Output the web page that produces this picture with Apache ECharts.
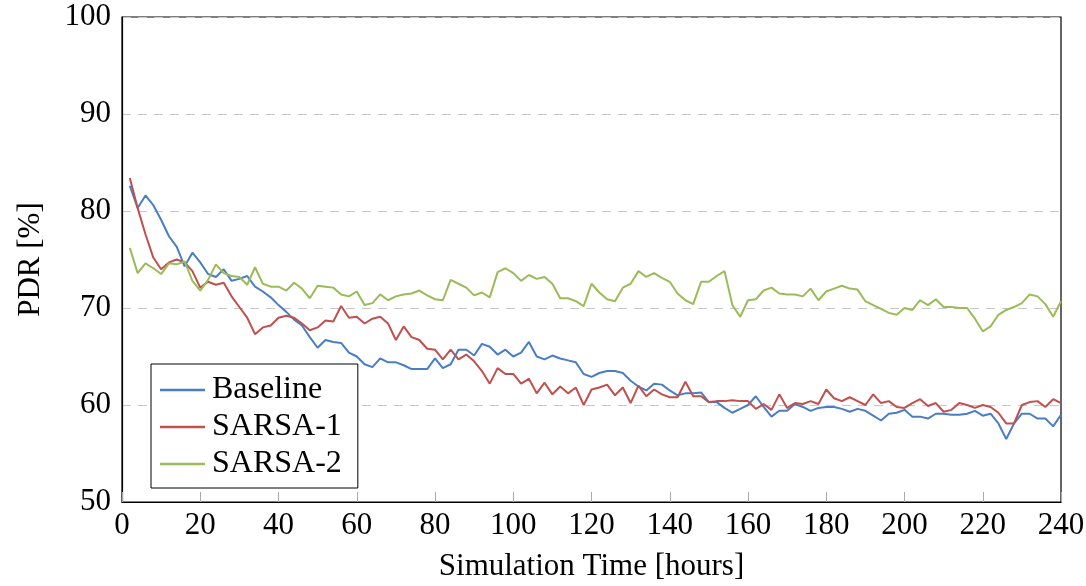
<!DOCTYPE html>
<html>
<head>
<meta charset="utf-8">
<script src="https://cdn.jsdelivr.net/npm/echarts@6/dist/echarts.min.js"></script>
<style>
  html, body { margin: 0; padding: 0; background: #fff; }
  #chart { width: 1086px; height: 586px; }
</style>
</head>
<body>
<div id="chart"></div>
<script>
// simulation time in hours, one sample every 2 h
const hours = [
  2, 4, 6, 8, 10, 12, 14, 16, 18, 20,
  22, 24, 26, 28, 30, 32, 34, 36, 38, 40,
  42, 44, 46, 48, 50, 52, 54, 56, 58, 60,
  62, 64, 66, 68, 70, 72, 74, 76, 78, 80,
  82, 84, 86, 88, 90, 92, 94, 96, 98, 100,
  102, 104, 106, 108, 110, 112, 114, 116, 118, 120,
  122, 124, 126, 128, 130, 132, 134, 136, 138, 140,
  142, 144, 146, 148, 150, 152, 154, 156, 158, 160,
  162, 164, 166, 168, 170, 172, 174, 176, 178, 180,
  182, 184, 186, 188, 190, 192, 194, 196, 198, 200,
  202, 204, 206, 208, 210, 212, 214, 216, 218, 220,
  222, 224, 226, 228, 230, 232, 234, 236, 238, 240
]

const baseline = [
  82.6, 80.3, 81.6, 80.6, 79.1, 77.4, 76.3, 74.3, 75.7, 74.7,
  73.5, 73.2, 74.0, 72.8, 73.0, 73.3, 72.2, 71.7, 71.1, 70.3,
  69.6, 68.8, 68.2, 67.0, 65.9, 66.7, 66.5, 66.4, 65.4, 65.0,
  64.2, 63.9, 64.8, 64.4, 64.4, 64.1, 63.7, 63.7, 63.7, 64.8,
  63.8, 64.2, 65.7, 65.7, 65.1, 66.3, 66.0, 65.2, 65.7, 65.0,
  65.4, 66.5, 65.0, 64.7, 65.1, 64.8, 64.6, 64.4, 63.2, 62.9,
  63.3, 63.5, 63.5, 63.3, 62.5, 61.9, 61.5, 62.2, 62.1, 61.5,
  61.0, 61.2, 61.2, 61.3, 60.3, 60.3, 59.7, 59.2, 59.6, 60.0,
  60.9, 59.8, 58.8, 59.4, 59.4, 60.1, 59.8, 59.4, 59.7, 59.8,
  59.8, 59.6, 59.3, 59.6, 59.4, 58.9, 58.4, 59.1, 59.2, 59.5,
  58.8, 58.8, 58.6, 59.1, 59.1, 59.0, 59.0, 59.1, 59.4, 58.9,
  59.1, 58.1, 56.5, 58.1, 59.1, 59.1, 58.6, 58.6, 57.8, 59.0
]

const sarsa1 = [
  83.4, 80.3, 77.6, 75.2, 74.0, 74.7, 75.0, 74.7, 73.8, 72.1,
  72.7, 72.4, 72.6, 71.2, 70.1, 69.0, 67.3, 68.0, 68.2, 69.0,
  69.2, 69.0, 68.4, 67.7, 68.0, 68.7, 68.6, 70.2, 69.0, 69.1,
  68.4, 68.9, 69.1, 68.4, 66.7, 68.1, 67.0, 66.7, 65.8, 65.7,
  64.7, 65.7, 64.7, 65.2, 64.5, 63.5, 62.2, 63.8, 63.2, 63.2,
  62.2, 62.7, 61.2, 62.3, 61.1, 61.9, 61.2, 61.8, 60.0, 61.6,
  61.8, 62.1, 61.0, 61.8, 60.2, 62.0, 60.9, 61.6, 61.1, 60.8,
  60.8, 62.4, 60.9, 60.9, 60.3, 60.4, 60.4, 60.5, 60.4, 60.4,
  59.6, 60.1, 59.5, 61.1, 59.7, 60.2, 60.1, 60.4, 60.1, 61.6,
  60.7, 60.4, 60.8, 60.4, 60.0, 61.1, 60.2, 60.4, 59.8, 59.7,
  60.2, 60.6, 59.9, 60.2, 59.3, 59.5, 60.2, 60.0, 59.7, 60.0,
  59.8, 59.2, 58.1, 58.1, 60.0, 60.3, 60.4, 59.8, 60.6, 60.2
]

const sarsa2 = [
  76.2, 73.6, 74.6, 74.1, 73.5, 74.6, 74.5, 74.8, 72.8, 71.8,
  72.9, 74.5, 73.6, 73.3, 73.2, 72.4, 74.2, 72.5, 72.2, 72.2,
  71.8, 72.6, 72.0, 71.0, 72.3, 72.2, 72.1, 71.4, 71.2, 71.7,
  70.3, 70.5, 71.4, 70.8, 71.2, 71.4, 71.5, 71.8, 71.3, 70.9,
  70.8, 72.9, 72.5, 72.1, 71.3, 71.6, 71.1, 73.7, 74.1, 73.6,
  72.8, 73.4, 73.0, 73.2, 72.5, 71.0, 71.0, 70.7, 70.2, 72.5,
  71.6, 70.9, 70.7, 72.1, 72.5, 73.8, 73.2, 73.6, 73.1, 72.7,
  71.5, 70.8, 70.4, 72.7, 72.7, 73.3, 73.8, 70.3, 69.1, 70.8,
  70.9, 71.8, 72.1, 71.5, 71.4, 71.4, 71.2, 72.0, 70.8, 71.7,
  72.0, 72.3, 72.0, 71.9, 70.7, 70.3, 69.9, 69.5, 69.3, 70.0,
  69.8, 70.8, 70.3, 70.9, 70.1, 70.1, 70.0, 70.0, 68.9, 67.6,
  68.1, 69.3, 69.8, 70.1, 70.5, 71.4, 71.2, 70.4, 69.1, 70.7
]

const seriesNames = ['Baseline', 'SARSA-1', 'SARSA-2']
const seriesColors = ['#4a7ec4', '#c0504d', '#9bbb59']

const font = "'Liberation Serif', 'DejaVu Serif', serif"

const pairs = (ys) => ys.map((y, i) => [hours[i], y])

const chart = echarts.init(document.getElementById('chart'))

chart.setOption({
    animation: false,
    textStyle: { fontFamily: font, color: '#000' },
    grid: {
        left: 122,
        right: 25,
        top: 17,
        bottom: 84,
        outerBoundsMode: 'none',
        containLabel: false,
        show: true,
        borderColor: '#000',
        borderWidth: 1.2
    },
    legend: {
        orient: 'vertical',
        left: 151,
        top: 364,
        data: seriesNames,
        icon: 'rect',
        itemWidth: 45,
        itemHeight: 2.5,
        itemGap: 5,
        padding: [10, 16, 8, 9],
        backgroundColor: '#fff',
        borderColor: '#000',
        borderWidth: 1,
        textStyle: { fontFamily: font, fontSize: 32, color: '#000', padding: [0, 0, 0, 2] }
    },
    xAxis: {
        type: 'value',
        min: 0,
        max: 240,
        interval: 20,
        name: 'Simulation Time [hours]',
        nameLocation: 'middle',
        nameGap: 49,
        nameTextStyle: { fontFamily: font, fontSize: 31, color: '#000' },
        axisLine: { lineStyle: { color: '#000', width: 1.2 } },
        axisTick: { inside: true, length: 10, lineStyle: { color: '#aaa' } },
        axisLabel: { fontFamily: font, fontSize: 31, color: '#000', margin: 8 },
        splitLine: { show: false }
    },
    yAxis: {
        type: 'value',
        min: 50,
        max: 100,
        interval: 10,
        name: 'PDR [%]',
        nameLocation: 'middle',
        nameGap: 76,
        nameTextStyle: { fontFamily: font, fontSize: 31, color: '#000' },
        axisLine: { show: true, lineStyle: { color: '#000', width: 1.2 } },
        axisTick: { show: false },
        axisLabel: { fontFamily: font, fontSize: 31, color: '#000', margin: 11 },
        splitLine: { show: true, lineStyle: { color: '#c8c8c8', type: [9, 7], width: 1 } }
    },
    series: [baseline, sarsa1, sarsa2].map((ys, i) => ({
        name: seriesNames[i],
        type: 'line',
        data: pairs(ys),
        symbol: 'none',
        color: seriesColors[i],
        lineStyle: { color: seriesColors[i], width: 2 }
    }))
})
</script>
</body>
</html>
